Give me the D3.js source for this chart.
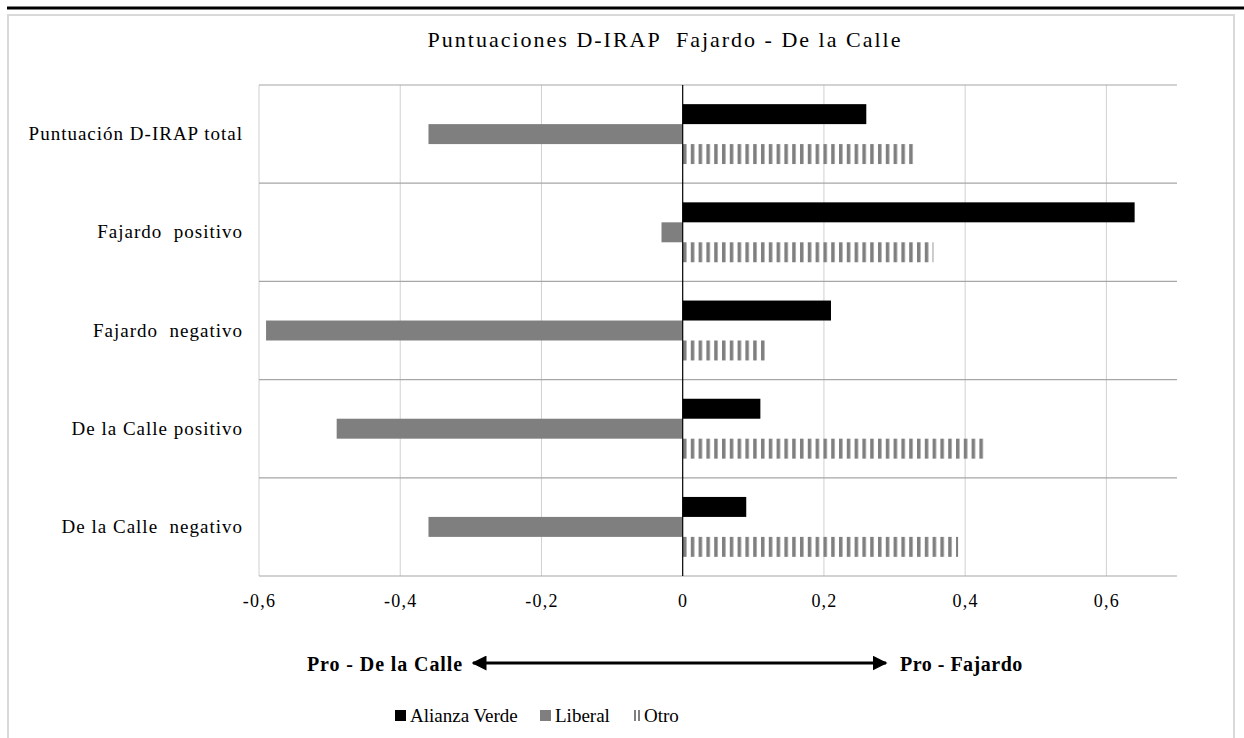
<!DOCTYPE html>
<html>
<head>
<meta charset="utf-8">
<script src="https://cdn.jsdelivr.net/npm/d3@7"></script>
<style>
  body { margin: 0; background: #fff; }
  svg, svg text { font-family: "Liberation Serif", "DejaVu Serif", "Times New Roman", serif; }
</style>
</head>
<body>
<svg id="chart" width="1244" height="738"></svg>
<script>
const categories = ["Puntuación D-IRAP total", "Fajardo  positivo", "Fajardo  negativo", "De la Calle positivo", "De la Calle  negativo"];
const series = ["Alianza Verde", "Liberal", "Otro"];
const alianzaVerde = [0.26, 0.64, 0.21, 0.11, 0.09];
const liberal = [-0.36, -0.03, -0.59, -0.49, -0.36];
const otro = [0.33, 0.355, 0.12, 0.43, 0.39];
const xTicks = [-0.6, -0.4, -0.2, 0, 0.2, 0.4, 0.6];

const values = { "Alianza Verde": alianzaVerde, "Liberal": liberal, "Otro": otro };
const fills = { "Alianza Verde": "#000", "Liberal": "#7f7f7f", "Otro": "url(#stripes)" };
const serif = "'Liberation Serif', 'DejaVu Serif', serif";

const svg = d3.select("#chart");
const plot = { left: 259, right: 1177, top: 85, bottom: 576 };

// stripe pattern for "Otro"
const defs = svg.append("defs");
const pat = defs.append("pattern")
    .attr("id", "stripes")
    .attr("patternUnits", "userSpaceOnUse")
    .attr("width", 7.8).attr("height", 8)
    .attr("x", 682);
pat.append("rect").attr("width", 7.8).attr("height", 8).attr("fill", "#fff");
pat.append("rect").attr("x", 1).attr("width", 3.5).attr("height", 8).attr("fill", "#7f7f7f");

defs.append("marker")
    .attr("id", "head")
    .attr("viewBox", "0 0 10 10")
    .attr("refX", 9).attr("refY", 5)
    .attr("markerWidth", 5).attr("markerHeight", 5)
    .attr("orient", "auto-start-reverse")
    .append("path").attr("d", "M0,0 L10,5 L0,10 Z").attr("fill", "#000");

// page decoration
svg.append("line").attr("x1", 7).attr("x2", 1244).attr("y1", 8).attr("y2", 8)
    .attr("stroke", "#000").attr("stroke-width", 3);
svg.append("rect").attr("x", 8).attr("y", 15).attr("width", 1226).attr("height", 740)
    .attr("fill", "none").attr("stroke", "#d9d9d9").attr("stroke-width", 2);

const x = d3.scaleLinear().domain([-0.6, 0.7]).range([plot.left, plot.right]);
const y0 = d3.scaleBand().domain(categories).range([plot.top, plot.bottom])
    .paddingInner(0.39).paddingOuter(0.195);
const y1 = d3.scaleBand().domain(series).range([0, y0.bandwidth()]);

// vertical gridlines
svg.append("g").selectAll("line").data(xTicks.filter(d => d !== 0)).join("line")
    .attr("x1", d => x(d)).attr("x2", d => x(d))
    .attr("y1", plot.top).attr("y2", plot.bottom)
    .attr("stroke", "#d0d0d0").attr("stroke-width", 1);

// category separators
const step = y0.step();
const seps = d3.range(categories.length + 1).map(i => plot.top + i * step);
svg.append("g").selectAll("line").data(seps).join("line")
    .attr("x1", plot.left).attr("x2", plot.right)
    .attr("y1", d => d).attr("y2", d => d)
    .attr("stroke", "#a6a6a6").attr("stroke-width", 1.2);

// bars
const groups = svg.append("g").selectAll("g").data(categories).join("g")
    .attr("transform", d => `translate(0,${y0(d)})`);
groups.selectAll("rect")
    .data((c, i) => series.map(s => ({ s, v: values[s][i] })))
    .join("rect")
    .attr("x", d => x(Math.min(0, d.v)))
    .attr("width", d => Math.abs(x(d.v) - x(0)))
    .attr("y", d => y1(d.s))
    .attr("height", y1.bandwidth())
    .attr("fill", d => fills[d.s]);

// zero line
svg.append("line").attr("x1", x(0)).attr("x2", x(0))
    .attr("y1", plot.top).attr("y2", plot.bottom)
    .attr("stroke", "#000").attr("stroke-width", 1.2);

// x axis labels
const xAxis = svg.append("g")
    .attr("transform", `translate(0,${plot.bottom})`)
    .call(d3.axisBottom(x).tickValues(xTicks).tickSize(0).tickPadding(18)
        .tickFormat(d => String(d).replace(".", ",")));
xAxis.select(".domain").remove();
xAxis.attr("font-family", serif).attr("font-size", 18);
xAxis.selectAll("text").attr("fill", "#000").attr("letter-spacing", 1.2);

// category labels
const yAxis = svg.append("g")
    .attr("transform", `translate(${plot.left},0)`)
    .call(d3.axisLeft(y0).tickSize(0).tickPadding(16));
yAxis.select(".domain").remove();
yAxis.attr("font-family", serif).attr("font-size", 19);
yAxis.selectAll("text")
    .attr("letter-spacing", 1).attr("fill", "#000")
    .style("white-space", "pre");

// title
svg.append("text").attr("x", 665).attr("y", 47).attr("text-anchor", "middle")
    .attr("font-family", serif)
    .attr("font-size", 22).attr("letter-spacing", 2).style("white-space", "pre")
    .text("Puntuaciones D-IRAP  Fajardo - De la Calle");

// direction arrow
svg.append("text").attr("x", 307).attr("y", 671).attr("font-family", serif)
    .attr("font-weight", "bold").attr("font-size", 20).attr("letter-spacing", 0.9)
    .text("Pro - De la Calle");
svg.append("line").attr("x1", 473).attr("x2", 886).attr("y1", 663).attr("y2", 663)
    .attr("stroke", "#000").attr("stroke-width", 3)
    .attr("marker-start", "url(#head)").attr("marker-end", "url(#head)");
svg.append("text").attr("x", 900).attr("y", 671).attr("font-family", serif)
    .attr("font-weight", "bold").attr("font-size", 20).attr("letter-spacing", 0.5)
    .text("Pro - Fajardo");

// legend
const legendX = [395, 540, 629];
const legend = svg.append("g").selectAll("g").data(series).join("g")
    .attr("transform", (d, i) => `translate(${legendX[i]},722)`);
legend.append("rect").attr("x", 0).attr("y", -12).attr("width", 11).attr("height", 11)
    .attr("fill", d => d === "Otro" ? "url(#legstripes)" : fills[d]);
legend.append("text").attr("x", 15).attr("y", 0).attr("font-family", serif)
    .attr("font-size", 19).text(d => d);

const lp = defs.append("pattern").attr("id", "legstripes").attr("patternUnits", "userSpaceOnUse")
    .attr("width", 11).attr("height", 11).attr("x", 629);
lp.append("rect").attr("x", 3).attr("width", 2).attr("height", 11).attr("fill", "#808080");
lp.append("rect").attr("x", 7).attr("width", 2).attr("height", 11).attr("fill", "#808080");
</script>
</body>
</html>
